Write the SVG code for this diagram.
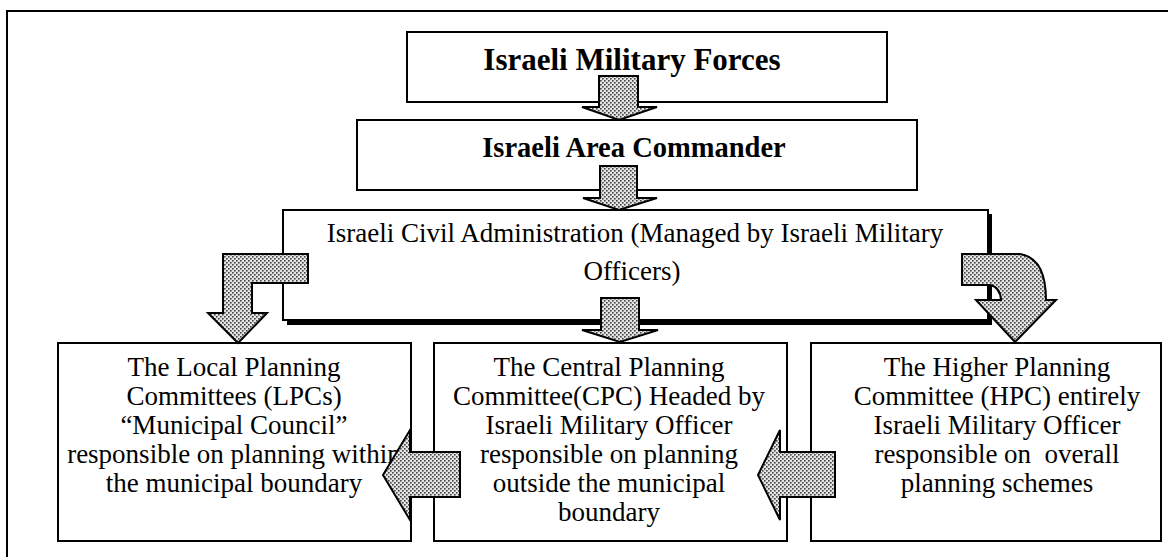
<svg xmlns="http://www.w3.org/2000/svg" width="1168" height="557" viewBox="0 0 1168 557">
<style>
.box{fill:#fff;stroke:#000;stroke-width:2}
text{font-family:'Liberation Serif','Times New Roman',Times,serif;fill:#000;text-anchor:middle}
.t{font-size:27px}
.tb{font-weight:bold}
.arr{fill:url(#stip);stroke:#000;stroke-width:2;stroke-linejoin:miter}
</style>
<defs>
<pattern id="stip" width="4" height="4" patternUnits="userSpaceOnUse">
<rect width="4" height="4" fill="#e4e4e4"/>
<rect x="0" y="0" width="1.6" height="1.6" fill="#444"/>
<rect x="2" y="2" width="1.6" height="1.6" fill="#444"/>
</pattern>
</defs>
<rect width="1168" height="557" fill="#fff"/>
<rect x="7" y="11" width="1170" height="560" fill="none" stroke="#000" stroke-width="2"/>

<g font-family="Liberation Serif, Times New Roman, serif">
<g id="forces">
<rect class="box" x="407" y="32" width="480" height="70"/>
<text class="tb" x="632" y="70" font-size="31">Israeli Military Forces</text>
</g>
<g id="commander">
<rect class="box" x="357" y="120" width="560" height="70"/>
<text class="tb" x="634" y="157" font-size="28.5">Israeli Area Commander</text>
</g>
<g id="civil">
<rect x="287" y="214" width="705" height="111" fill="#000"/>
<rect class="box" x="283" y="210" width="705" height="110"/>
<text class="t" x="635" y="242">Israeli Civil Administration (Managed by Israeli Military</text>
<text class="t" x="632" y="280">Officers)</text>
</g>
<g id="lpc">
<rect class="box" x="58" y="343" width="353" height="198"/>
<text class="t" x="234" y="376">The Local Planning</text>
<text class="t" x="234" y="405">Committees (LPCs)</text>
<text class="t" x="234" y="434">“Municipal Council”</text>
<text class="t" x="234" y="463">responsible on planning within</text>
<text class="t" x="234" y="492">the municipal boundary</text>
</g>
<g id="cpc">
<rect class="box" x="434" y="343" width="353" height="198"/>
<text class="t" x="609" y="376">The Central Planning</text>
<text class="t" x="609" y="405">Committee(CPC) Headed by</text>
<text class="t" x="609" y="434">Israeli Military Officer</text>
<text class="t" x="609" y="463">responsible on planning</text>
<text class="t" x="609" y="492">outside the municipal</text>
<text class="t" x="609" y="521">boundary</text>
</g>
<g id="hpc">
<rect class="box" x="811" y="343" width="350" height="198"/>
<text class="t" x="997" y="376">The Higher Planning</text>
<text class="t" x="997" y="405">Committee (HPC) entirely</text>
<text class="t" x="997" y="434">Israeli Military Officer</text>
<text class="t" x="997" y="463" xml:space="preserve">responsible on  overall</text>
<text class="t" x="997" y="492">planning schemes</text>
</g>
</g>

<g id="connectors">
<polygon class="arr" points="599,76 638,76 638,107 657,107 619,120 582,107 599,107"/>
<polygon class="arr" points="600,166 637,166 637,198 657,198 619,210 583,198 600,198"/>
<polygon class="arr" points="601,298 639,298 639,330 658,330 620,342 582,330 601,330"/>
<polygon class="arr" points="308,254 223,254 223,313 208,313 238,343 267,313 252,313 252,283 308,283"/>
<path class="arr" d="M962,254 L1020,254 Q1046,258 1046,300 L1056,300 L1015,342 L976,300 L1001,300 Q1000,287 990,285 L962,285 Z"/>
<polygon class="arr" points="460,452 410,452 410,430 383,475 410,520 410,497 460,497"/>
<polygon class="arr" points="835,452 780,452 780,430 758,475 780,520 780,497 835,497"/>
</g>
</svg>
